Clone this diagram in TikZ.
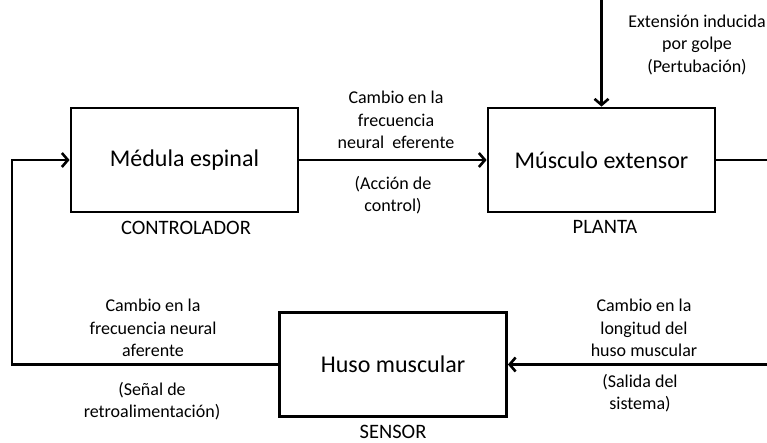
\documentclass[tikz,border=0pt]{standalone}
\usepackage{fontspec}
\setmainfont{Carlito}
\usetikzlibrary{arrows.meta}
\begin{document}
\begin{tikzpicture}[x=1pt,y=-1pt,
  blk/.style={draw,line width=2.8pt,minimum width=227pt,minimum height=104pt,
    font=\fontsize{24}{28}\selectfont,inner sep=0pt},
  lbl/.style={align=center,font=\fontsize{18}{22.5}\selectfont,inner sep=0pt},
  tag/.style={font=\fontsize{20.5}{24}\selectfont,inner sep=0pt},
  conn/.style={line width=2.8pt},
  arr/.style={conn,-{Straight Barb[length=6pt,width=14pt,line width=2.6pt]}}]
\useasboundingbox (0,0) rectangle (767,443);
% blocks
\node[blk] (med) at (184.5,160) {Médula espinal};
\node[blk] (mus) at (601.5,160) {Músculo extensor};
\node[blk] (huso) at (393,364.5) {Huso muscular};
% block captions
\node[tag] (ctl) at (186,228) {CONTROLADOR};
\node[tag] (pla) at (605,227) {PLANTA};
\node[tag] (sen) at (393,432) {SENSOR};
% connector helpers
\coordinate (dist) at (601.5,-5);
\coordinate (fb) at (12,160);
\coordinate (re) at (775,160);
% connectors
\draw[arr] (med) -- (mus);
\draw[arr] (dist) -- (mus.north);
\draw[arr] (mus.east) -| (re) |- (huso.east);
\draw[arr] (huso.west) -| (fb) -- (med.west);
% labels
\node[lbl] (l1) at (396,120) {Cambio en la\\frecuencia\\neural\ \ eferente};
\node[lbl] (l2) at (393,195) {(Acción de\\control)};
\node[lbl] (l3) at (697,45) {Extensión inducida\\por golpe\\(Pertubación)};
\node[lbl] (l4) at (153,328) {Cambio en la\\frecuencia neural\\aferente};
\node[lbl] (l5) at (152,401) {(Señal de\\retroalimentación)};
\node[lbl] (l6) at (644,328) {Cambio en la\\longitud del\\huso muscular};
\node[lbl] (l7) at (640,393) {(Salida del\\sistema)};
\end{tikzpicture}
\end{document}
